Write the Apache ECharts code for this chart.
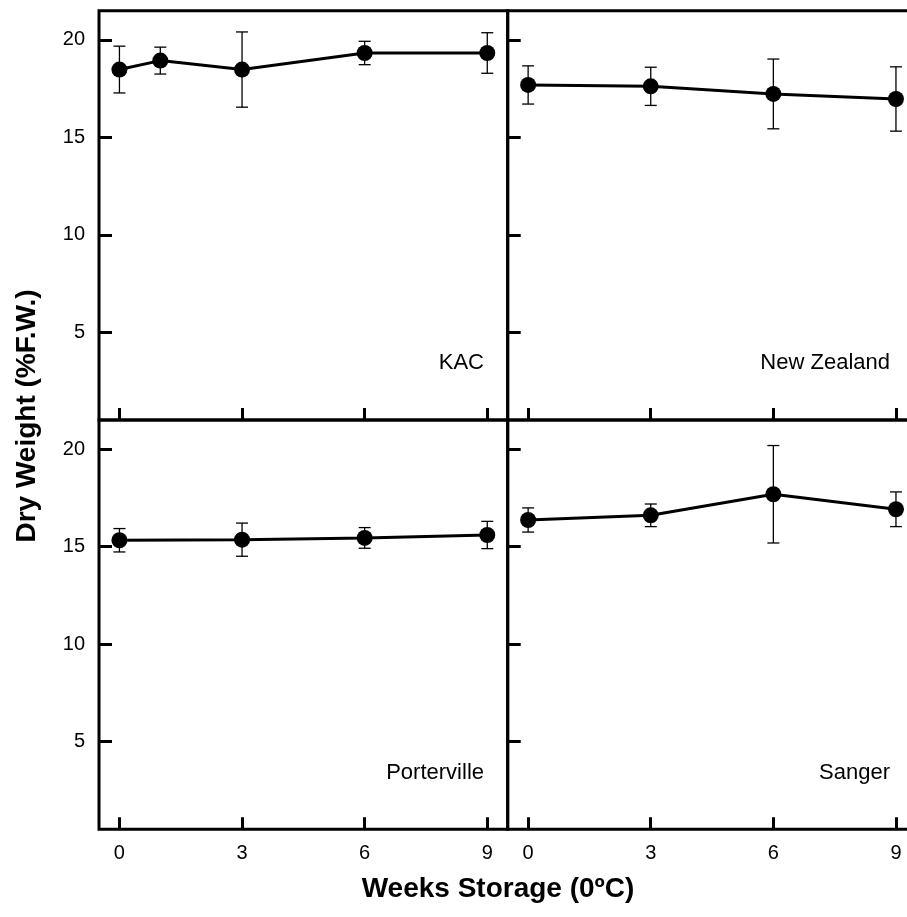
<!DOCTYPE html>
<html>
<head>
<meta charset="utf-8">
<script src="https://cdn.jsdelivr.net/npm/echarts@6/dist/echarts.min.js"></script>
<style>
html,body{margin:0;padding:0;background:#fff;overflow:hidden;width:907px;height:917px;}
#chart{width:920px;height:917px;}
</style>
</head>
<body>
<div id="chart"></div>
<script>
// ---- data ----
const panelNames = ['KAC', 'New Zealand', 'Porterville', 'Sanger'];
const kacWeeks = [0, 1, 3, 6, 9];
const kacMean = [18.48, 18.94, 18.48, 19.33, 19.33];
const kacErr = [1.2, 0.69, 1.93, 0.6, 1.04];
const nzWeeks = [0, 3, 6, 9];
const nzMean = [17.69, 17.62, 17.23, 16.97];
const nzErr = [0.98, 0.98, 1.79, 1.65];
const portWeeks = [0, 3, 6, 9];
const portMean = [15.33, 15.36, 15.45, 15.6];
const portErr = [0.6, 0.85, 0.53, 0.7];
const sangerWeeks = [0, 3, 6, 9];
const sangerMean = [16.37, 16.61, 17.69, 16.92];
const sangerErr = [0.62, 0.58, 2.5, 0.89];
const xTicks = [0, 3, 6, 9];
const yTicks = [5, 10, 15, 20];
const xTitle = 'Weeks Storage (0ºC)';
const yTitle = 'Dry Weight (%F.W.)';

const panels = [
  {weeks: kacWeeks, mean: kacMean, err: kacErr},
  {weeks: nzWeeks, mean: nzMean, err: nzErr},
  {weeks: portWeeks, mean: portMean, err: portErr},
  {weeks: sangerWeeks, mean: sangerMean, err: sangerErr}
];

const FONT = '"Liberation Sans", Arial, Helvetica, sans-serif';
const chart = echarts.init(document.getElementById('chart'), null, {renderer: 'canvas'});

const colLeft = [99, 507.7];
const rowTop = [10.7, 420];
const panelW = 408.7;
const panelH = 409.3;

const grids = [], xAxes = [], yAxes = [], series = [], graphics = [];
panels.forEach((p, i) => {
  const col = i % 2, row = Math.floor(i / 2);
  grids.push({
    left: colLeft[col], width: panelW, top: rowTop[row], height: panelH,
    show: true, borderColor: '#000', borderWidth: 3, backgroundColor: 'transparent', containLabel: false
  });
  xAxes.push({
    type: 'value', gridIndex: i, min: -0.5, max: 9.5,
    splitLine: {show: false},
    axisLine: {show: false, onZero: false},
    axisTick: {show: true, inside: true, length: 12, lineStyle: {color: '#000', width: 3}, customValues: xTicks},
    axisLabel: {show: row === 1, customValues: xTicks, color: '#000', fontSize: 20, fontFamily: FONT, margin: 14}
  });
  yAxes.push({
    type: 'value', gridIndex: i, min: 0.5, max: 21.5,
    splitLine: {show: false},
    axisLine: {show: false, onZero: false},
    axisTick: {show: true, inside: true, length: 13, lineStyle: {color: '#000', width: 3}, customValues: yTicks},
    axisLabel: {show: col === 0, customValues: yTicks, color: '#000', fontSize: 20, fontFamily: FONT, margin: 14}
  });
  const errData = p.weeks.map((w, k) => [w, p.mean[k] - p.err[k], p.mean[k] + p.err[k]]);
  series.push({
    type: 'custom', xAxisIndex: i, yAxisIndex: i, z: 2, silent: true,
    data: errData,
    encode: {x: 0, y: [1, 2]},
    renderItem: function (params, api) {
      const x = api.value(0);
      const lo = api.coord([x, api.value(1)]);
      const hi = api.coord([x, api.value(2)]);
      const w = 6;
      const st = {stroke: '#000', lineWidth: 1.3};
      return {type: 'group', children: [
        {type: 'line', shape: {x1: lo[0], y1: lo[1], x2: hi[0], y2: hi[1]}, style: st},
        {type: 'line', shape: {x1: lo[0] - w, y1: lo[1], x2: lo[0] + w, y2: lo[1]}, style: st},
        {type: 'line', shape: {x1: hi[0] - w, y1: hi[1], x2: hi[0] + w, y2: hi[1]}, style: st}
      ]};
    }
  });
  series.push({
    type: 'line', xAxisIndex: i, yAxisIndex: i, z: 3,
    data: p.weeks.map((w, k) => [w, p.mean[k]]),
    symbol: 'circle', symbolSize: 16,
    itemStyle: {color: '#000'},
    lineStyle: {color: '#000', width: 3},
    animation: false
  });
  graphics.push({
    type: 'text',
    x: col === 0 ? 484 : 890,
    y: row === 0 ? 363 : 773,
    style: {text: panelNames[i], fill: '#000', font: '22px ' + FONT, textAlign: 'right', textVerticalAlign: 'middle'}
  });
});

graphics.push({
  type: 'text', x: 498, y: 889,
  style: {text: xTitle, fill: '#000', font: 'bold 28px ' + FONT, textAlign: 'center', textVerticalAlign: 'middle'}
});
graphics.push({
  type: 'text', x: 27, y: 416, rotation: Math.PI / 2,
  style: {text: yTitle, fill: '#000', font: 'bold 28px ' + FONT, textAlign: 'center', textVerticalAlign: 'middle'}
});

chart.setOption({
  backgroundColor: '#fff',
  animation: false,
  grid: grids,
  xAxis: xAxes,
  yAxis: yAxes,
  series: series,
  graphic: graphics
});
</script>
</body>
</html>
